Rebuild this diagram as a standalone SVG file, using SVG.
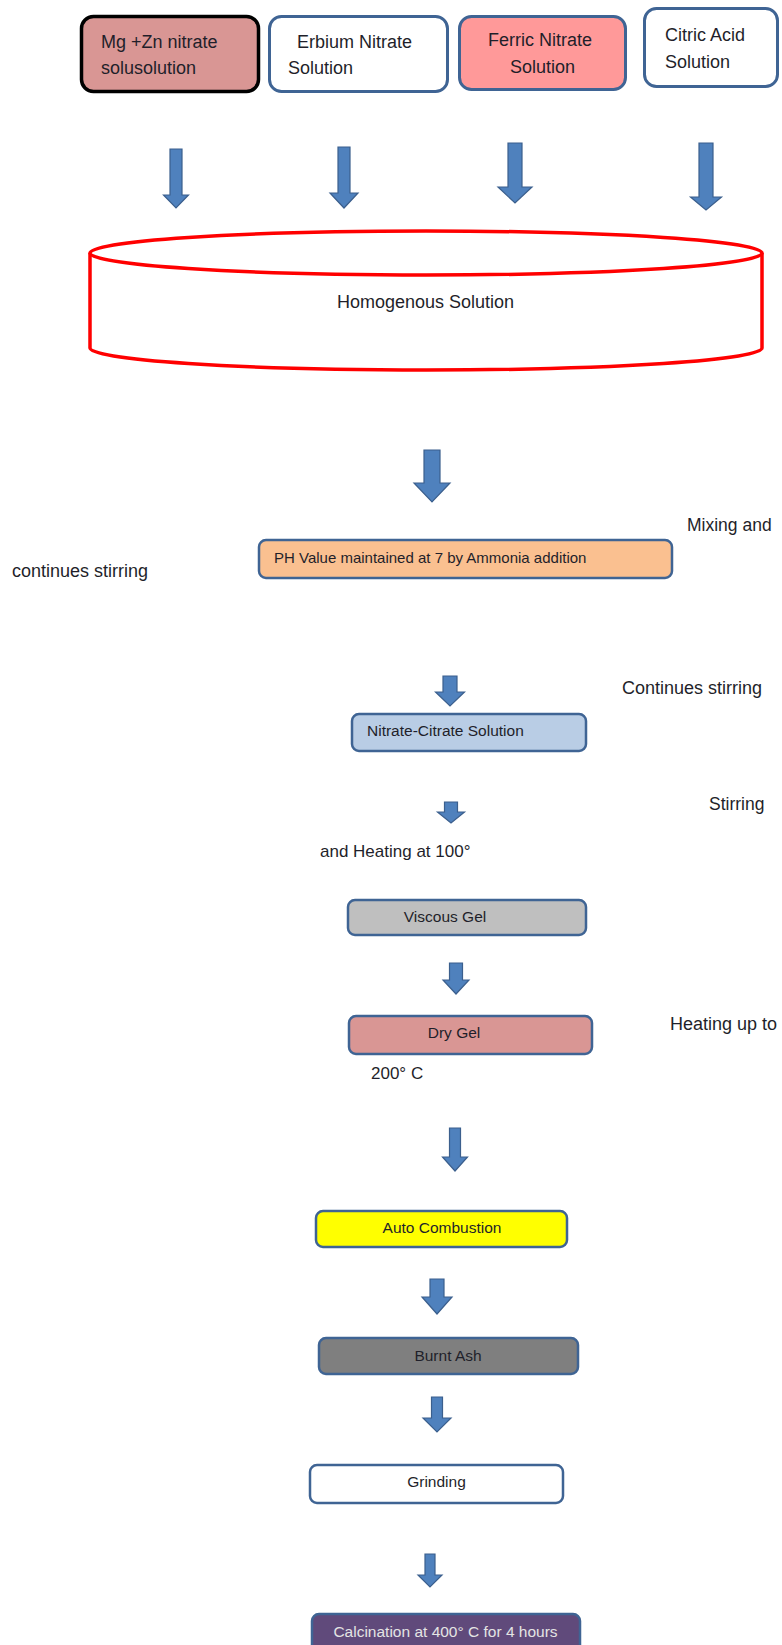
<svg xmlns="http://www.w3.org/2000/svg" width="782" height="1645" viewBox="0 0 782 1645">
<style>
text{font-family:"Liberation Sans",Arial,sans-serif;fill:#1f1f2a}
.t18{font-size:18px}
.t15{font-size:15.5px}
.c{text-anchor:middle}
.box{stroke:#3f6494;stroke-width:3}
.sbox{stroke:#3f6494;stroke-width:2.5}
.arr{fill:#4f81bd;stroke:#3b5f8d;stroke-width:1.2}
</style>
<rect width="782" height="1645" fill="#ffffff"/>
<g id="node-mgzn"><rect x="81.5" y="16.5" width="177" height="75" rx="12" fill="#d99694" stroke="#000" stroke-width="3.5"/><text class="t18" x="101" y="48">Mg +Zn nitrate</text><text class="t18" x="101" y="74">solusolution</text></g>
<g id="node-erbium"><rect x="269.5" y="16.5" width="178" height="75" rx="12" fill="#fff" class="box"/><text class="t18" x="297" y="48">Erbium Nitrate</text><text class="t18" x="288" y="74">Solution</text></g>
<g id="node-ferric"><rect x="459.5" y="16.5" width="166" height="73" rx="12" fill="#ff9999" class="box"/><text class="t18" x="488" y="46">Ferric Nitrate</text><text class="t18" x="510" y="73">Solution</text></g>
<g id="node-citric"><rect x="644.5" y="8.5" width="133" height="78" rx="12" fill="#fff" class="box"/><text class="t18" x="665" y="41">Citric Acid</text><text class="t18" x="665" y="68">Solution</text></g>
<g id="node-homogenous"><path d="M90 253 V348 A336 22 0 0 0 762 348 V253" fill="#fff" stroke="#ff0000" stroke-width="3.5"/><ellipse cx="426" cy="253" rx="336" ry="22" fill="#fff" stroke="#ff0000" stroke-width="3.5"/><text class="t18 c" x="425.5" y="308">Homogenous Solution</text></g>
<g id="node-ph"><rect x="259" y="540" width="413" height="38" rx="7" fill="#fac090" class="sbox"/><text x="274" y="563" style="font-size:15px">PH Value maintained at 7 by Ammonia addition</text></g>
<g id="node-nitrate-citrate"><rect x="352" y="714" width="234" height="37" rx="7" fill="#b9cde5" class="sbox"/><text class="t15" x="367" y="736">Nitrate-Citrate Solution</text></g>
<g id="node-viscous"><rect x="348" y="900" width="238" height="35" rx="7" fill="#bfbfbf" class="sbox"/><text class="t15 c" x="445" y="922">Viscous Gel</text></g>
<g id="node-dry"><rect x="349" y="1016" width="243" height="38" rx="7" fill="#d99694" class="sbox"/><text class="t15 c" x="454" y="1038">Dry Gel</text></g>
<g id="node-auto"><rect x="316" y="1211" width="251" height="36" rx="7" fill="#ffff00" class="sbox"/><text class="t15 c" x="442" y="1233">Auto Combustion</text></g>
<g id="node-burnt"><rect x="319" y="1338" width="259" height="36" rx="7" fill="#7f7f7f" class="sbox"/><text class="t15 c" x="448" y="1361">Burnt Ash</text></g>
<g id="node-grinding"><rect x="310" y="1465" width="253" height="38" rx="7" fill="#fff" class="sbox"/><text class="t15 c" x="436.5" y="1487">Grinding</text></g>
<g id="node-calcination"><rect x="312" y="1614" width="268" height="50" rx="7" fill="#604a7b" class="sbox"/><text class="t15 c" x="445.5" y="1637" style="fill:#e4e4e4">Calcination at 400° C for 4 hours</text></g>
<g id="labels">
<text class="t18" x="687" y="531" style="font-size:17.5px">Mixing and</text>
<text class="t18" x="12" y="577">continues stirring</text>
<text class="t18" x="622" y="694">Continues stirring</text>
<text class="t18" x="709" y="810" style="font-size:17.5px">Stirring</text>
<text class="t18" x="320" y="857" style="font-size:17px">and Heating at 100°</text>
<text class="t18" x="670" y="1030">Heating up to</text>
<text class="t18" x="371" y="1079" style="font-size:17px">200° C</text>
</g>
<g id="connectors">
<path class="arr" d="M170 149 H182 V195 H188.5 L176 208 L163.5 195 H170 Z"/>
<path class="arr" d="M338 147 H350 V193 H358 L344 208 L330 193 H338 Z"/>
<path class="arr" d="M508 143 H522 V187 H532 L515 203 L498 187 H508 Z"/>
<path class="arr" d="M699 143 H713 V197 H721.5 L706 210 L690.5 197 H699 Z"/>
<path class="arr" d="M424 450 H440 V483 H450 L432 502 L414 483 H424 Z"/>
<path class="arr" d="M443 676 H457 V692 H464.5 L450 706 L435.5 692 H443 Z"/>
<path class="arr" d="M444.5 802 H457.5 V812 H464.5 L451 823 L437.5 812 H444.5 Z"/>
<path class="arr" d="M449.5 963 H462.5 V980 H469 L456 994 L443 980 H449.5 Z"/>
<path class="arr" d="M449.5 1128 H460.5 V1157 H467.5 L455 1171 L442.5 1157 H449.5 Z"/>
<path class="arr" d="M430 1279 H444 V1297 H452 L437 1314 L422 1297 H430 Z"/>
<path class="arr" d="M431.5 1397 H442.5 V1418 H451 L437 1432 L423 1418 H431.5 Z"/>
<path class="arr" d="M425 1554 H435 V1575 H442 L430 1587 L418 1575 H425 Z"/>
</g>
</svg>
